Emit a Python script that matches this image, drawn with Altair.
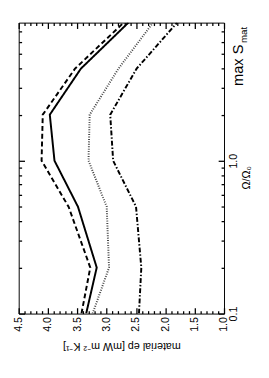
import altair as alt
import pandas as pd

# ---- data ----
omega = [0.1, 0.2, 0.5, 1.0, 2.0, 4.0, 8.0]
series_names = ["dashed", "solid", "dotted", "dashdot"]
ep_dashed = [3.43, 3.28, 3.65, 4.11, 4.09, 3.54, 2.71]
ep_solid = [3.35, 3.17, 3.49, 3.89, 3.97, 3.44, 2.63]
ep_dotted = [3.24, 2.96, 3.00, 3.31, 3.29, 2.80, 2.21]
ep_dashdot = [2.45, 2.41, 2.50, 2.89, 2.94, 2.49, 1.80]

ep_ticks = [1.0, 1.1, 1.2, 1.3, 1.4, 1.5, 1.6, 1.7, 1.8, 1.9,
            2.0, 2.1, 2.2, 2.3, 2.4, 2.5, 2.6, 2.7, 2.8, 2.9,
            3.0, 3.1, 3.2, 3.3, 3.4, 3.5, 3.6, 3.7, 3.8, 3.9,
            4.0, 4.1, 4.2, 4.3, 4.4, 4.5]
omega_ticks = [0.1, 0.2, 0.3, 0.4, 0.5, 0.6, 0.7, 0.8, 0.9,
               1.0, 2.0, 3.0, 4.0, 5.0, 6.0, 7.0]

x_title = "material ep [mW m⁻² K⁻¹]"
y_title = "Ω/Ω₀"
title_main = ["max S"]
title_sub = ["mat"]

rows = []
for name, vals in zip(series_names, [ep_dashed, ep_solid, ep_dotted, ep_dashdot]):
    for o, v in zip(omega, vals):
        rows.append({"series": name, "omega": o, "ep": v})
df = pd.DataFrame(rows)

FONT = "Liberation Sans"
TICK = 6
x_scale = alt.Scale(domain=[1.0, 4.5], reverse=True, nice=False, zero=False)
y_scale = alt.Scale(type="log", domain=[0.1, 8], nice=False)

x_major = "abs(datum.value*2 - round(datum.value*2)) < 0.001"
y_major = "datum.value == 0.1 || datum.value == 1"
# minor ticks: only the outer 3px of the tick are drawn (ticks point inward)
x_dash = alt.condition(x_major, alt.value([]), alt.value([3, 3]))
y_dash = alt.condition(y_major, alt.value([]), alt.value([3, 3]))

common = dict(domain=False, grid=False, ticks=True, tickSize=TICK, offset=-TICK,
              tickColor="black", tickWidth=1.3, tickDashOffset=3,
              labelOverlap=False, labelBound=False)

base = alt.Chart(df)

lines = base.mark_line(clip=True).encode(
    x=alt.X("ep:Q", scale=x_scale,
            axis=alt.Axis(orient="bottom", values=ep_ticks, tickDash=x_dash,
                          labelExpr=f"({x_major}) ? format(datum.value, '.1f') : ''",
                          labelAngle=270, labelAlign="right", labelBaseline="middle",
                          labelPadding=3,
                          title=x_title, titleAngle=180, titleBaseline="middle",
                          titleAlign="center", titleX=105.5, titleY=39, **common)),
    y=alt.Y("omega:Q", scale=y_scale,
            axis=alt.Axis(orient="right", values=omega_ticks, tickDash=y_dash,
                          labelExpr=f"({y_major}) ? format(datum.value, '.1f') : ''",
                          labelAngle=270, labelAlign="center", labelBaseline="top",
                          labelPadding=4,
                          title=y_title, titleAngle=270, titleBaseline="middle",
                          titleAlign="center", titleX=29, titleY=159, **common)),
    order=alt.Order("omega:Q"),
    detail="series:N",
    strokeDash=alt.StrokeDash("series:N", legend=None,
                              scale=alt.Scale(domain=series_names,
                                              range=[[5, 3], [1, 0], [1, 1.5], [5, 2, 1.5, 2]])),
    strokeWidth=alt.StrokeWidth("series:N", legend=None,
                                scale=alt.Scale(domain=series_names, range=[2, 2, 1, 1.4])),
    color=alt.Color("series:N", legend=None,
                    scale=alt.Scale(domain=series_names,
                                    range=["black", "black", "#444444", "black"])),
)

frame_ticks = base.mark_point(opacity=0).encode(
    x=alt.X("ep:Q", scale=x_scale,
            axis=alt.Axis(orient="top", values=ep_ticks, tickDash=x_dash,
                          labels=False, title=None, **common)),
    y=alt.Y("omega:Q", scale=y_scale,
            axis=alt.Axis(orient="left", values=omega_ticks, tickDash=y_dash,
                          labels=False, title=None, **common)),
)

txt_main = alt.Chart(pd.DataFrame({"t": title_main})).mark_text(
    angle=270, align="left", baseline="middle", fontSize=15, font=FONT, color="black"
).encode(text="t:N", x=alt.value(226), y=alt.value(65))
txt_sub = alt.Chart(pd.DataFrame({"t": title_sub})).mark_text(
    angle=270, align="left", baseline="middle", fontSize=10, font=FONT, color="black"
).encode(text="t:N", x=alt.value(232), y=alt.value(21))

chart = alt.layer(lines, frame_ticks, txt_main, txt_sub).resolve_axis(
    x="independent", y="independent"
).properties(
    width=211, height=299,
    autosize=alt.AutoSizeParams(type="none"),
    padding={"left": 11, "top": 10, "right": 38, "bottom": 55},
).configure_view(
    stroke="black", strokeWidth=1
).configure_axis(
    labelFont=FONT, titleFont=FONT, labelFontSize=11, titleFontSize=11,
    labelColor="black", titleColor="black", titleFontWeight="normal",
)

chart.save("out.html", embed_options={"renderer": "svg", "actions": False})
